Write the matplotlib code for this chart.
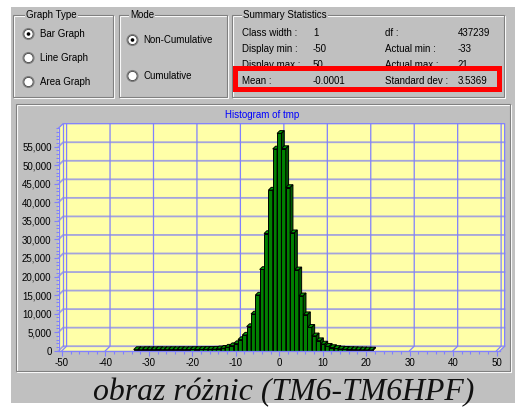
import matplotlib
matplotlib.use('Agg')
import matplotlib.pyplot as plt
from matplotlib.patches import Rectangle, Circle, Polygon
from matplotlib.ticker import MultipleLocator

plt.rcParams['font.family'] = ['Liberation Sans', 'DejaVu Sans']

# histogram of tmp (class width 1), counts
bins = list(range(-33, 22))
counts = [300, 280, 310, 290, 300, 320, 290, 300, 310, 300, 320, 300, 310, 330, 320, 340, 350, 360,
          400, 500, 650, 950, 1350, 1900, 3000, 4200, 6500, 9900, 15000, 21900, 31600, 43300, 54400,
          58600,
          54500, 44000, 31800, 21800, 14800, 9700, 6300, 4000, 2700, 1800, 1200, 850, 600, 450,
          380, 320, 290, 260, 240, 210, 190]

x_ticks = [-50, -40, -30, -20, -10, 0, 10, 20, 30, 40, 50]
x_labels = ['-50', '-40', '-30', '-20', '-10', '0', '10', '20', '30', '40', '50']
y_ticks = [0, 5000, 10000, 15000, 20000, 25000, 30000, 35000, 40000, 45000, 50000, 55000]
y_labels = ['0', '5,000', '10,000', '15,000', '20,000', '25,000', '30,000', '35,000',
            '40,000', '45,000', '50,000', '55,000']

graph_types = ['Bar Graph', 'Line Graph', 'Area Graph']
modes = ['Non-Cumulative', 'Cumulative']
stat_rows = [
    ('Class width :', '1', 'df :', '437239'),
    ('Display min :', '-50', 'Actual min :', '-33'),
    ('Display max :', '50', 'Actual max :', '21'),
    ('Mean :', '-0.0001', 'Standard dev :', '3.5369'),
]
caption = 'obraz różnic (TM6-TM6HPF)'

GREY = '#c0c0c0'
YELLOW = '#ffffa8'
VGRID = '#8080ff'
HGRID = '#a4a4dc'
GREEN = '#008000'
GREEN_TOP = '#00a000'
GREEN_SIDE = '#005a00'
FS = 7

fig = plt.figure(figsize=(5.15, 4.09), dpi=100)
fig.patch.set_facecolor('white')

# ---- dialog (pixel coordinates) ----
ui = fig.add_axes([0, 0, 1, 1])
ui.set_xlim(0, 515)
ui.set_ylim(409, 0)
ui.axis('off')
ui.add_patch(Rectangle((11, 7), 504, 396, fc=GREY, ec='none'))


def etched(x0, y0, x1, y1):
    ui.add_patch(Rectangle((x0 + 1, y0 + 1), x1 - x0, y1 - y0, fill=False, ec='white', lw=0.8))
    ui.add_patch(Rectangle((x0, y0), x1 - x0, y1 - y0, fill=False, ec='#808080', lw=0.8))


def group_title(x, y, s):
    ui.text(x, y, s, fontsize=FS, va='center', ha='left',
            bbox=dict(facecolor=GREY, edgecolor='none', pad=1))


def radio(cx, cy, on):
    ui.add_patch(Circle((cx, cy), 5.5, fc='white', ec='#808080', lw=0.8))
    ui.add_patch(Circle((cx, cy), 4.6, fill=False, ec='#404040', lw=0.6))
    if on:
        ui.add_patch(Circle((cx, cy), 1.8, fc='black', ec='none'))


etched(13, 15, 113, 97)
group_title(26, 15, 'Graph Type')
for i, name in enumerate(graph_types):
    y = 34 + 24 * i
    radio(28.5, y, i == 0)
    ui.text(40, y, name, fontsize=FS, va='center')

etched(119, 15, 227, 97)
group_title(130, 15, 'Mode')
for i, name in enumerate(modes):
    y = 40 + 36 * i
    radio(132.5, y, i == 0)
    ui.text(143, y, name, fontsize=FS, va='center')

etched(232, 15, 504, 97)
group_title(243, 15, 'Summary Statistics')
for i, row in enumerate(stat_rows):
    y = 33.3 + 16 * i
    for x, s in zip([242, 313, 385, 457.5], row):
        ui.text(x, y, s, fontsize=FS, va='center')

# highlight box
ui.add_patch(Rectangle((234.8, 67.5), 263.7, 21.7, fill=False, ec='#ff0000', lw=3.6, zorder=5))

# chart panel
etched(15.5, 103.5, 510, 370.5)
ui.text(262, 115, 'Histogram of tmp', color='#0000ff', fontsize=FS, ha='center', va='center')

ui.text(284, 400, caption, family='Liberation Serif', style='italic', fontsize=22.9,
        ha='center', va='baseline', color='#111111')

# ---- histogram with fake 3D walls ----
X0, X1 = -50.8, 50.8
Y1 = 60000
DX, DY = 1.06, 1213
BDX, BDY = 0.65, 750

ax = fig.add_axes([58.5 / 515, 1 - 350.7 / 409, 441.5 / 515, 222.5 / 409])
ax.set_xlim(X0, X1)
ax.set_ylim(0, Y1)
ax.patch.set_visible(False)

ax.add_patch(Rectangle((X0 + DX, DY), X1 - X0, Y1, fc=YELLOW, ec='none', clip_on=False, zorder=0))
ax.add_patch(Polygon([(X0, 0), (X0, Y1), (X0 + DX, Y1 + DY), (X0 + DX, DY)],
                     fc=YELLOW, ec='none', clip_on=False, zorder=0))
ax.add_patch(Polygon([(X0, 0), (X1, 0), (X1 + DX, DY), (X0 + DX, DY)],
                     fc=YELLOW, ec='none', clip_on=False, zorder=0))

for v in y_ticks:
    ax.plot([X0, X0 + DX, X1 + DX], [v, v + DY, v + DY], color=HGRID, lw=1.3,
            clip_on=False, zorder=1)
for x in x_ticks:
    ax.plot([x, x + DX, x + DX], [0, DY, Y1 + DY], color=VGRID, lw=0.9,
            clip_on=False, zorder=1)
# wall outline
ax.plot([X0, X0 + DX, X1 + DX, X1 + DX, X1], [Y1, Y1 + DY, Y1 + DY, DY, 0],
        color=VGRID, lw=0.9, clip_on=False, zorder=1)
ax.plot([X0 + DX, X0 + DX], [DY, Y1 + DY], color=VGRID, lw=0.9, clip_on=False, zorder=1)

for b, c in zip(bins, counts):
    ax.bar(b, c, width=1, color=GREEN, edgecolor='black', linewidth=0.7, zorder=3)
    ax.add_patch(Polygon([(b - 0.5, c), (b + 0.5, c), (b + 0.5 + BDX, c + BDY), (b - 0.5 + BDX, c + BDY)],
                         fc=GREEN_TOP, ec='black', lw=0.7, zorder=3, clip_on=False))
    ax.add_patch(Polygon([(b + 0.5, 0), (b + 0.5, c), (b + 0.5 + BDX, c + BDY), (b + 0.5 + BDX, BDY)],
                         fc=GREEN_SIDE, ec='black', lw=0.7, zorder=3, clip_on=False))

for side in ['top', 'right']:
    ax.spines[side].set_visible(False)
for side in ['left', 'bottom']:
    ax.spines[side].set_color(VGRID)
    ax.spines[side].set_linewidth(0.9)
    ax.spines[side].set_zorder(4)

ax.set_xticks(x_ticks, labels=x_labels)
ax.set_yticks(y_ticks, labels=y_labels)
ax.xaxis.set_minor_locator(MultipleLocator(2))
ax.yaxis.set_minor_locator(MultipleLocator(1000))
ax.tick_params(which='major', length=3.5, width=0.8, color=VGRID, labelsize=FS, pad=1.5)
ax.tick_params(which='minor', length=2, width=0.8, color=VGRID)

fig.savefig('out.png', dpi=100, facecolor='white')
